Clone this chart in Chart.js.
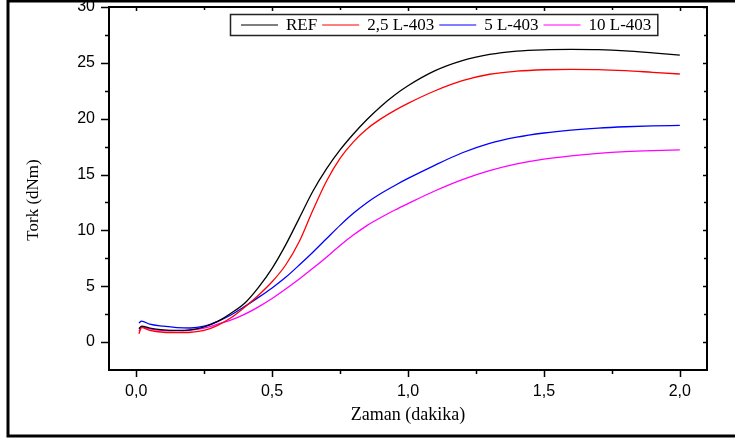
<!DOCTYPE html>
<html>
<head>
<meta charset="utf-8">
<script src="https://cdn.jsdelivr.net/npm/chart.js@4.4.1/dist/chart.umd.min.js"></script>
<style>
  html, body { margin: 0; padding: 0; background: #fff; }
  #wrap { width: 735px; height: 441px; }
</style>
</head>
<body>
<div id="wrap"><canvas id="torkChart" width="735" height="441"></canvas></div>
<script>
// Zaman (dakika)
const times = [0.01, 0.02, 0.05, 0.1, 0.15, 0.2, 0.25, 0.3, 0.35, 0.4, 0.45, 0.5,
  0.55, 0.6, 0.65, 0.7, 0.75, 0.8, 0.85, 0.9, 0.95, 1.0, 1.1, 1.2, 1.3, 1.4,
  1.5, 1.6, 1.7, 1.8, 1.9, 2.0];

// Tork (dNm)
const refVals = [1.2, 1.43, 1.25, 1.1, 1.05, 1.1, 1.35, 1.85, 2.6, 3.5, 4.9, 6.6,
  8.7, 11.1, 13.5, 15.5, 17.2, 18.65, 19.95, 21.1, 22.1, 22.95, 24.3, 25.2,
  25.75, 26.05, 26.17, 26.2, 26.18, 26.08, 25.9, 25.7];
const l403_25 = [0.75, 1.29, 1.05, 0.88, 0.85, 0.88, 1.05, 1.5, 2.2, 3.15, 4.2, 5.4,
  6.9, 9.0, 11.8, 14.4, 16.45, 17.95, 19.1, 19.98, 20.72, 21.37, 22.5, 23.4,
  23.98, 24.25, 24.38, 24.42, 24.4, 24.3, 24.15, 24.0];
const l403_5 = [1.7, 1.88, 1.6, 1.42, 1.3, 1.26, 1.42, 1.85, 2.45, 3.2, 4.0, 4.85,
  5.8, 6.9, 8.05, 9.25, 10.45, 11.55, 12.5, 13.3, 14.0, 14.65, 15.85, 16.95,
  17.8, 18.35, 18.72, 18.98, 19.16, 19.28, 19.36, 19.4];
const l403_10 = [0.98, 1.35, 1.18, 1.02, 1.0, 1.08, 1.25, 1.6, 1.98, 2.5, 3.15, 3.9,
  4.75, 5.65, 6.6, 7.6, 8.65, 9.6, 10.45, 11.15, 11.8, 12.4, 13.55, 14.55,
  15.35, 15.95, 16.38, 16.68, 16.9, 17.05, 17.14, 17.2];

const seriesNames = ["REF", "2,5 L-403", "5 L-403", "10 L-403"];
const seriesColors = ["#000000", "#ff0000", "#0000ff", "#ff00ff"];

const xMajor = [0, 0.5, 1.0, 1.5, 2.0];
const xMinor = [0.25, 0.75, 1.25, 1.75];
const yMajor = [0, 5, 10, 15, 20, 25, 30];
const yMinor = [2.5, 7.5, 12.5, 17.5, 22.5, 27.5];

const xTitle = "Zaman (dakika)";
const yTitle = "Tork (dNm)";

const serif = "'Liberation Serif', 'Times New Roman', serif";
const sans = "'Liberation Sans', Arial, sans-serif";

function toPoints(vals) {
  return vals.map((v, i) => ({ x: times[i], y: v }));
}

const decorPlugin = {
  id: "decor",
  afterDraw(chart) {
    const ctx = chart.ctx;
    const a = chart.chartArea;
    const xs = chart.scales.x;
    const ys = chart.scales.y;

    ctx.save();
    ctx.strokeStyle = "#000";

    // outer picture border
    ctx.lineWidth = 3;
    ctx.strokeRect(8, 1, 740, 435);

    // plot frame
    ctx.lineWidth = 2;
    ctx.strokeRect(a.left, a.top, a.right - a.left, a.bottom - a.top);

    // tick marks
    ctx.lineWidth = 1.5;
    ctx.beginPath();
    xMajor.forEach((v) => {
      const px = Math.round(xs.getPixelForValue(v)) + 0.5;
      ctx.moveTo(px, a.bottom); ctx.lineTo(px, a.bottom + 7);
      ctx.moveTo(px, a.top); ctx.lineTo(px, a.top + 4);
    });
    xMinor.forEach((v) => {
      const px = Math.round(xs.getPixelForValue(v)) + 0.5;
      ctx.moveTo(px, a.bottom); ctx.lineTo(px, a.bottom + 4);
      ctx.moveTo(px, a.top); ctx.lineTo(px, a.top + 3);
    });
    yMajor.forEach((v) => {
      const py = Math.round(ys.getPixelForValue(v)) + 0.5;
      ctx.moveTo(a.left, py); ctx.lineTo(a.left - 8, py);
      ctx.moveTo(a.right, py); ctx.lineTo(a.right - 4, py);
    });
    yMinor.forEach((v) => {
      const py = Math.round(ys.getPixelForValue(v)) + 0.5;
      ctx.moveTo(a.left, py); ctx.lineTo(a.left - 4, py);
      ctx.moveTo(a.right, py); ctx.lineTo(a.right - 3, py);
    });
    ctx.stroke();

    // axis titles
    ctx.fillStyle = "#000";
    ctx.font = "18px " + serif;
    ctx.textAlign = "center";
    ctx.textBaseline = "middle";
    ctx.fillText(xTitle, (a.left + a.right) / 2, 415);
    ctx.save();
    ctx.translate(34, 200);
    ctx.rotate(-Math.PI / 2);
    ctx.font = "17px " + serif;
    ctx.fillText(yTitle, 0, 0);
    ctx.restore();

    // legend box inside the plot
    ctx.font = "17px " + serif;
    const sample = 37;
    const boxLeft = a.left + 121;
    const boxTop = a.top + 7;
    const boxH = 21;
    let x = boxLeft + 11;
    const items = chart.data.datasets.map((ds) => ({
      label: ds.label,
      color: ds.borderColor,
      w: ctx.measureText(ds.label).width,
    }));
    const total = items.reduce((s, it) => s + sample + 8 + it.w + 5, 0) - 5;
    ctx.lineWidth = 1.5;
    ctx.strokeStyle = "#222";
    ctx.strokeRect(boxLeft + 0.5, boxTop + 0.5, 11 + total + 6, boxH);
    const cy = boxTop + boxH / 2 + 0.5;
    ctx.textAlign = "left";
    items.forEach((it) => {
      ctx.strokeStyle = it.color;
      ctx.lineWidth = 1.2;
      ctx.beginPath();
      ctx.moveTo(x, cy);
      ctx.lineTo(x + sample, cy);
      ctx.stroke();
      x += sample + 8;
      ctx.fillStyle = "#000";
      ctx.fillText(it.label, x, cy + 1);
      x += it.w + 5;
    });

    ctx.restore();
  },
};

function initChart() {
  const ctx = document.getElementById("torkChart");
  const datasets = [refVals, l403_25, l403_5, l403_10].map((vals, i) => ({
    label: seriesNames[i],
    data: toPoints(vals),
    borderColor: seriesColors[i],
    backgroundColor: seriesColors[i],
    borderWidth: 1.3,
    pointRadius: 0,
    cubicInterpolationMode: "monotone",
    fill: false,
  }));

  new Chart(ctx, {
    type: "line",
    data: { datasets: datasets },
    options: {
      responsive: false,
      animation: false,
      layout: { padding: { left: 0, top: 7, right: 28, bottom: 0 } },
      plugins: {
        legend: { display: false },
        tooltip: { enabled: false },
      },
      scales: {
        x: {
          type: "linear",
          min: -0.1,
          max: 2.1,
          afterBuildTicks: (scale) => {
            scale.ticks = xMajor.map((v) => ({ value: v }));
          },
          afterFit: (scale) => {
            scale.height = 71;
            scale.paddingLeft = 0;
            scale.paddingRight = 0;
          },
          grid: { display: false, drawTicks: true, tickLength: 7 },
          border: { display: false },
          ticks: {
            color: "#000",
            font: { family: sans, size: 16 },
            padding: 5,
            maxRotation: 0,
            callback: (v) => v.toFixed(1).replace(".", ","),
          },
        },
        y: {
          type: "linear",
          min: -2.5,
          max: 30,
          afterBuildTicks: (scale) => {
            scale.ticks = yMajor.map((v) => ({ value: v }));
          },
          afterFit: (scale) => {
            scale.width = 109;
            scale.paddingTop = 0;
            scale.paddingBottom = 0;
          },
          grid: { display: false, drawTicks: true, tickLength: 8 },
          border: { display: false },
          ticks: {
            color: "#000",
            font: { family: sans, size: 16 },
            padding: 6,
            callback: (v) => String(v),
          },
        },
      },
    },
    plugins: [decorPlugin],
  });
}

document.addEventListener("DOMContentLoaded", initChart);
</script>
</body>
</html>
